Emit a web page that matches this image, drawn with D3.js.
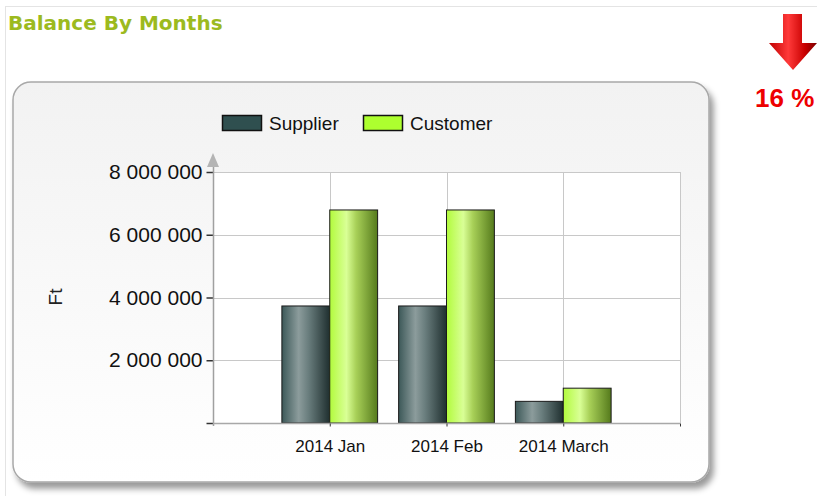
<!DOCTYPE html>
<html>
<head>
<meta charset="utf-8">
<script src="https://cdn.jsdelivr.net/npm/d3@7"></script>
<style>
  body { margin: 0; background: #fff; }
  svg { display: block; }
</style>
</head>
<body>
<div id="chart-area"></div>
<script>
// chart values
var categories = ["2014 Jan", "2014 Feb", "2014 March"];
var seriesNames = ["Supplier", "Customer"];
var supplier = [3730000, 3730000, 690000];
var customer = [6790000, 6790000, 1110000];
var yTicks = [0, 2000000, 4000000, 6000000, 8000000];
var changeLabel = "16 %";

var svgWidth = 817, svgHeight = 496;
var plot = { left: 213, right: 680, top: 172, bottom: 423 };

var svg = d3.select("#chart-area").append("svg")
    .attr("width", svgWidth)
    .attr("height", svgHeight);

var defs = svg.append("defs");

// gradients
function barGradient(id, stops) {
    var g = defs.append("linearGradient").attr("id", id)
        .attr("x1", "0%").attr("x2", "100%").attr("y1", "0%").attr("y2", "0%");
    stops.forEach(s => g.append("stop").attr("offset", s[0]).attr("stop-color", s[1]));
}
barGradient("gSupplier", [["0%", "#3c5858"], ["35%", "#8c9c9c"], ["55%", "#6a7e7e"], ["100%", "#1f2f2f"]]);
barGradient("gCustomer", [["0%", "#b2fb3c"], ["35%", "#d9ff96"], ["55%", "#a8d058"], ["100%", "#557a1c"]]);

var panelGrad = defs.append("linearGradient").attr("id", "gPanel")
    .attr("x1", "0").attr("x2", "0").attr("y1", "0").attr("y2", "1");
panelGrad.append("stop").attr("offset", "0%").attr("stop-color", "#f2f2f2");
panelGrad.append("stop").attr("offset", "100%").attr("stop-color", "#ffffff");

var arrowGrad = defs.append("linearGradient").attr("id", "gArrow")
    .attr("x1", "0").attr("x2", "1").attr("y1", "0").attr("y2", "0");
arrowGrad.append("stop").attr("offset", "0%").attr("stop-color", "#c00000");
arrowGrad.append("stop").attr("offset", "40%").attr("stop-color", "#ff3a3a");
arrowGrad.append("stop").attr("offset", "75%").attr("stop-color", "#c80000");
arrowGrad.append("stop").attr("offset", "100%").attr("stop-color", "#7a0000");

var shadow = defs.append("filter").attr("id", "shadow")
    .attr("x", "-5%").attr("y", "-5%").attr("width", "115%").attr("height", "120%");
shadow.append("feDropShadow").attr("dx", 4).attr("dy", 6).attr("stdDeviation", 3)
    .attr("flood-color", "#000").attr("flood-opacity", 0.4);

// outer frame
svg.append("line").attr("x1", 5).attr("x2", svgWidth).attr("y1", 6.5).attr("y2", 6.5)
    .attr("stroke", "#e4e4e4");
svg.append("line").attr("x1", 5.5).attr("x2", 5.5).attr("y1", 6).attr("y2", svgHeight)
    .attr("stroke", "#e4e4e4");

// title
svg.append("text")
    .attr("x", 8).attr("y", 30)
    .attr("font-family", "DejaVu Sans")
    .attr("font-weight", "bold")
    .attr("font-size", "20px")
    .attr("fill", "#9cba1e")
    .text("Balance By Months");

// red arrow + percentage
svg.append("path")
    .attr("d", "M783,14 L802,14 L802,43 L817,43 L793,70 L769,43 L783,43 Z")
    .attr("fill", "url(#gArrow)");
svg.append("text")
    .attr("x", 755).attr("y", 107)
    .attr("font-family", "Liberation Sans, Arial")
    .attr("font-weight", "bold")
    .attr("font-size", "26px")
    .attr("fill", "#ee0000")
    .text(changeLabel);

// card
svg.append("rect")
    .attr("x", 13).attr("y", 82).attr("width", 696).attr("height", 400)
    .attr("rx", 18).attr("ry", 18)
    .attr("fill", "url(#gPanel)")
    .attr("stroke", "#a8a8a8")
    .attr("stroke-width", 1.5)
    .attr("filter", "url(#shadow)");

// scales
var xScale = d3.scaleLinear()
    .domain([0, categories.length + 1])
    .range([plot.left, plot.right]);

var yScale = d3.scaleLinear()
    .domain([0, 8000000])
    .range([plot.bottom, plot.top]);

var barWidth = (xScale(1) - xScale(0)) * 0.41;

// plot background
svg.append("rect")
    .attr("x", plot.left).attr("y", plot.top)
    .attr("width", plot.right - plot.left).attr("height", plot.bottom - plot.top)
    .attr("fill", "#fff");

// grid
svg.append("g").selectAll("line")
    .data(yTicks.filter(d => d > 0))
    .enter().append("line")
    .attr("x1", plot.left).attr("x2", plot.right)
    .attr("y1", d => Math.round(yScale(d)) + 0.5).attr("y2", d => Math.round(yScale(d)) + 0.5)
    .attr("stroke", "#c8c8c8");

svg.append("g").selectAll("line")
    .data(d3.range(1, categories.length + 2))
    .enter().append("line")
    .attr("x1", d => Math.round(xScale(d)) + 0.5).attr("x2", d => Math.round(xScale(d)) + 0.5)
    .attr("y1", plot.top).attr("y2", plot.bottom)
    .attr("stroke", "#c8c8c8");

// bars
var fmt = d => d3.format(",")(d).replace(/,/g, " ");
var bars = svg.append("g");
bars.selectAll("rect.supplier")
    .data(supplier)
    .enter().append("rect")
    .attr("class", "supplier")
    .attr("x", (d, i) => xScale(i + 1) - barWidth)
    .attr("y", d => yScale(d))
    .attr("width", barWidth)
    .attr("height", d => yScale(0) - yScale(d))
    .attr("fill", "url(#gSupplier)")
    .attr("stroke", "#1a1a1a");

bars.selectAll("rect.customer")
    .data(customer)
    .enter().append("rect")
    .attr("class", "customer")
    .attr("x", (d, i) => xScale(i + 1))
    .attr("y", d => yScale(d))
    .attr("width", barWidth)
    .attr("height", d => yScale(0) - yScale(d))
    .attr("fill", "url(#gCustomer)")
    .attr("stroke", "#1a1a1a");

// y axis
var yAxis = svg.append("g")
    .attr("transform", "translate(" + (plot.left + 0.5) + ",0)")
    .call(d3.axisLeft(yScale)
        .tickValues(yTicks)
        .tickSize(7)
        .tickPadding(4)
        .tickFormat(d => d === 0 ? "" : fmt(d)));
yAxis.select(".domain").remove();
yAxis.selectAll(".tick line").attr("stroke", "#333").attr("stroke-width", 1.5);
yAxis.selectAll(".tick text")
    .attr("font-family", "Liberation Sans, Arial")
    .attr("font-size", "21px")
    .attr("fill", "#111");

svg.append("line")
    .attr("x1", plot.left + 0.5).attr("x2", plot.left + 0.5)
    .attr("y1", 165).attr("y2", plot.bottom + 3)
    .attr("stroke", "#a0a0a0").attr("stroke-width", 1.5);
svg.append("path")
    .attr("d", "M207,167 L219,167 L213,153 Z")
    .attr("fill", "#b4b4b4");

// x axis
var xAxis = svg.append("g")
    .attr("transform", "translate(0," + (plot.bottom + 0.5) + ")")
    .call(d3.axisBottom(xScale)
        .tickValues(d3.range(1, categories.length + 2))
        .tickSize(3)
        .tickPadding(13)
        .tickFormat(d => categories[d - 1] || ""));
xAxis.select(".domain").attr("stroke", "#a8a8a8").attr("stroke-width", 1.5)
    .attr("d", "M" + plot.left + ",0H" + plot.right);
xAxis.selectAll(".tick line").attr("stroke", "#333");
xAxis.selectAll(".tick text")
    .attr("font-family", "Liberation Sans, Arial")
    .attr("font-size", "17px")
    .attr("fill", "#111");

// y axis label
svg.append("text")
    .attr("transform", "translate(62,297) rotate(-90)")
    .attr("text-anchor", "middle")
    .attr("font-family", "Liberation Sans, Arial")
    .attr("font-size", "19px")
    .attr("fill", "#222")
    .text("Ft");

// legend
var legendColors = ["#2f4f4f", "#adff2f"];
var legendX = [222, 363];
var legend = svg.append("g").selectAll("g")
    .data(seriesNames)
    .enter().append("g")
    .attr("transform", (d, i) => "translate(" + legendX[i] + ",115)");
legend.append("rect")
    .attr("x", 0.5).attr("y", 0.5)
    .attr("width", 39).attr("height", 15)
    .attr("fill", (d, i) => legendColors[i])
    .attr("stroke", "#111").attr("stroke-width", 1.5);
legend.append("text")
    .attr("x", 47).attr("y", 15)
    .attr("font-family", "Liberation Sans, Arial")
    .attr("font-size", "19px")
    .attr("fill", "#111")
    .text(d => d);
</script>
</body>
</html>
